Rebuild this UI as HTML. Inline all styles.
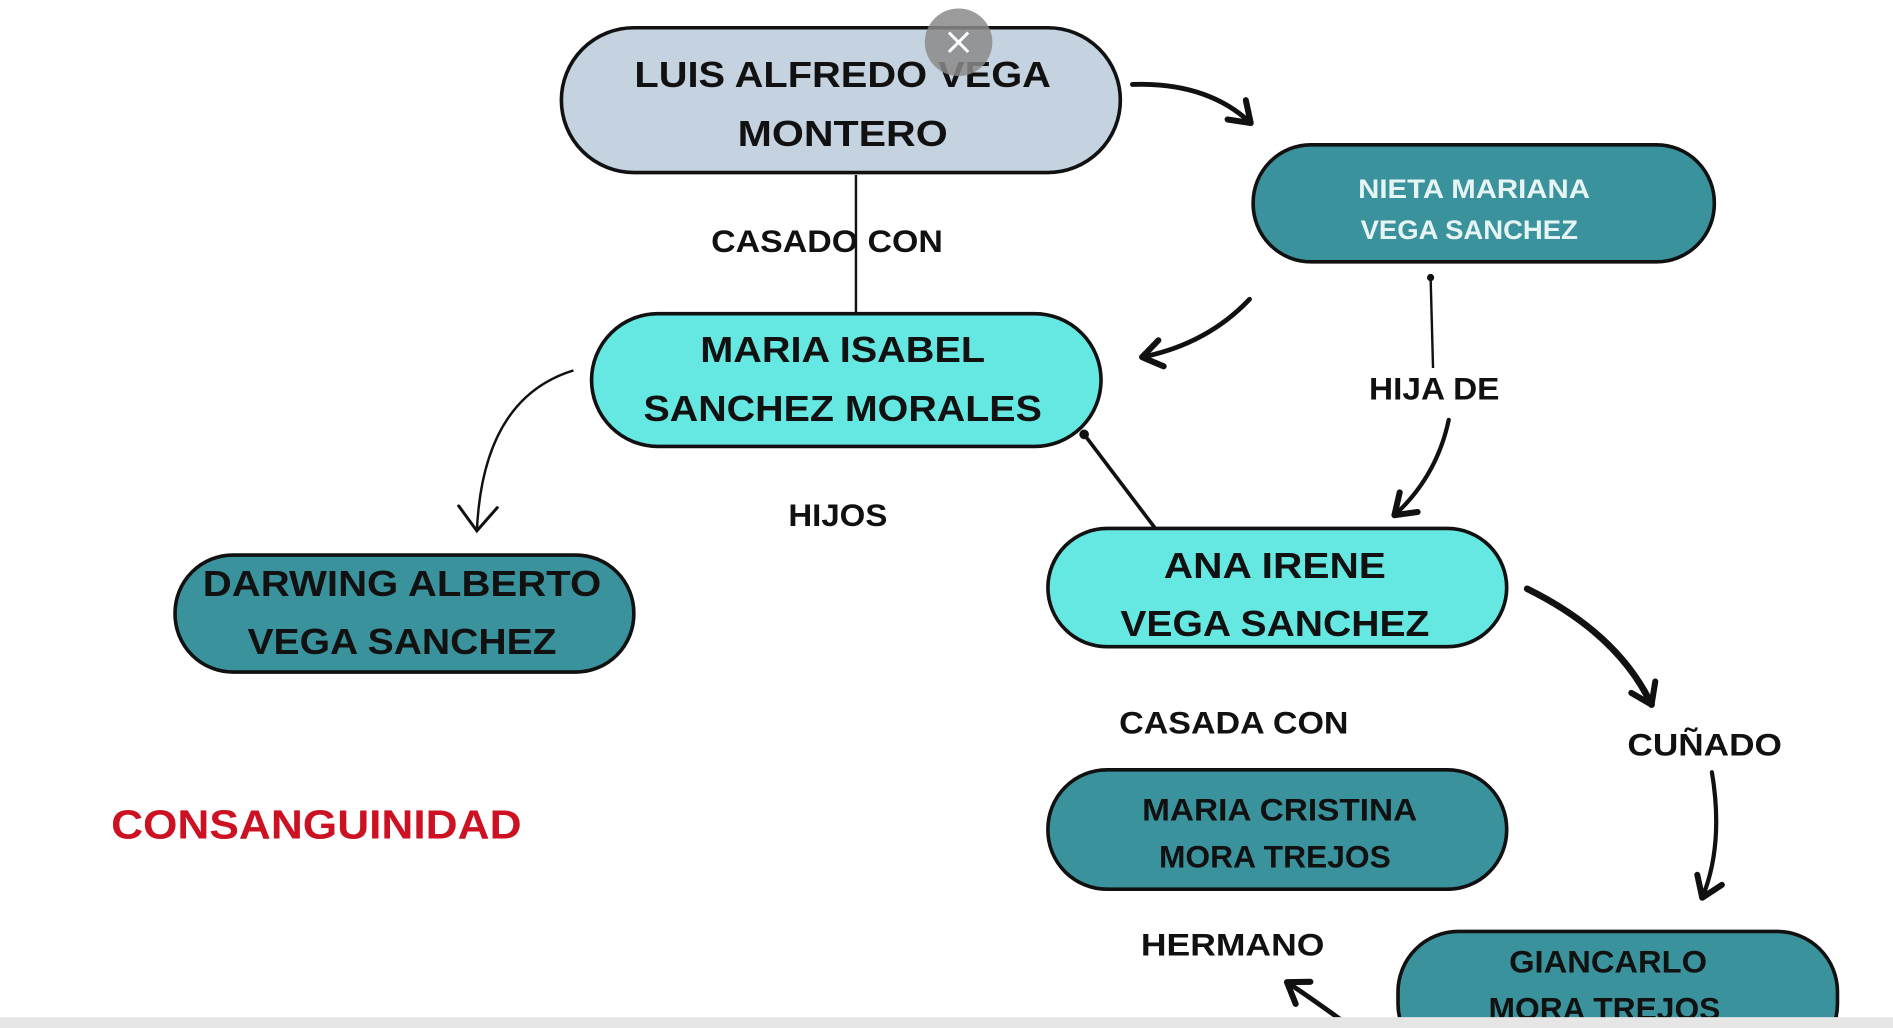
<!DOCTYPE html>
<html><head><meta charset="utf-8"><style>
html,body{margin:0;padding:0;background:#fff;width:1893px;height:1028px;overflow:hidden}
svg{display:block}
text{font-family:"Liberation Sans",sans-serif;font-weight:bold;text-anchor:middle}
</style></head><body>
<svg width="1893" height="1028" viewBox="0 0 1568 852" preserveAspectRatio="none" xmlns="http://www.w3.org/2000/svg">
<defs>
<marker id="a" viewBox="0 0 30 30" refX="22" refY="15" markerWidth="30" markerHeight="30" orient="auto" markerUnits="userSpaceOnUse">
<path d="M6,4 L22,15 L6,26" fill="none" stroke="#111" stroke-width="5" stroke-linecap="round" stroke-linejoin="round"/>
</marker>
<marker id="b" viewBox="0 0 30 36" refX="24" refY="18" markerWidth="30" markerHeight="36" orient="auto" markerUnits="userSpaceOnUse">
<path d="M4,2 L24,18 L4,34" fill="none" stroke="#111" stroke-width="2.5" stroke-linecap="round"/>
</marker>
</defs>
<rect width="1568" height="852" fill="#fff"/>
<path d="M938,70 Q1000,68 1036,102" fill="none" stroke="#111" stroke-width="4" stroke-linecap="round" marker-end="url(#a)"/>
<path d="M1035,248 Q1000,285 946,296" fill="none" stroke="#111" stroke-width="4" stroke-linecap="round" marker-end="url(#a)"/>
<line x1="709" y1="145" x2="709" y2="262" stroke="#111" stroke-width="2"/>
<line x1="1185" y1="230" x2="1187" y2="305" stroke="#111" stroke-width="2"/>
<circle cx="1185" cy="230" r="3" fill="#111"/>
<path d="M1200,348 Q1190,395 1155,427" fill="none" stroke="#111" stroke-width="3.5" stroke-linecap="round" marker-end="url(#a)"/>
<line x1="957" y1="438" x2="898" y2="360" stroke="#111" stroke-width="3"/>
<circle cx="898" cy="360" r="4" fill="#111"/>
<path d="M475,307 Q400,330 395,440" fill="none" stroke="#111" stroke-width="2" marker-end="url(#b)"/>
<path d="M1265,488 Q1340,525 1368,584" fill="none" stroke="#111" stroke-width="5.5" stroke-linecap="round" marker-end="url(#a)"/>
<path d="M1418,640 Q1428,700 1410,744" fill="none" stroke="#111" stroke-width="3.5" stroke-linecap="round" marker-end="url(#a)"/>
<path d="M1120,852 Q1090,830 1066,814" fill="none" stroke="#111" stroke-width="4" stroke-linecap="round" marker-end="url(#a)"/>
<rect x="465" y="23" width="463" height="120" rx="60" fill="#c5d3e0" stroke="#111" stroke-width="3"/>
<rect x="1038" y="120" width="382" height="97" rx="48" fill="#3a939c" stroke="#111" stroke-width="3"/>
<rect x="490" y="260" width="422" height="110" rx="55" fill="#66e8e2" stroke="#111" stroke-width="3"/>
<rect x="145" y="460" width="380" height="97" rx="48" fill="#3a939c" stroke="#111" stroke-width="3"/>
<rect x="868" y="438" width="380" height="98" rx="49" fill="#66e8e2" stroke="#111" stroke-width="3"/>
<rect x="868" y="638" width="380" height="99" rx="49" fill="#3a939c" stroke="#111" stroke-width="3"/>
<rect x="1158" y="772" width="364" height="110" rx="50" fill="#3a939c" stroke="#111" stroke-width="3"/>
<g fill="#111" font-size="30">
<text x="698" y="72" textLength="345" lengthAdjust="spacingAndGlyphs">LUIS ALFREDO  VEGA</text>
<text x="698" y="121" textLength="174" lengthAdjust="spacingAndGlyphs">MONTERO</text>
<text x="698" y="300" textLength="236" lengthAdjust="spacingAndGlyphs">MARIA ISABEL</text>
<text x="698" y="349" textLength="330" lengthAdjust="spacingAndGlyphs">SANCHEZ MORALES</text>
<text x="333" y="494" textLength="330" lengthAdjust="spacingAndGlyphs">DARWING ALBERTO</text>
<text x="333" y="542" textLength="256" lengthAdjust="spacingAndGlyphs">VEGA SANCHEZ</text>
<text x="1056" y="479" textLength="184" lengthAdjust="spacingAndGlyphs">ANA IRENE</text>
<text x="1056" y="527" textLength="256" lengthAdjust="spacingAndGlyphs">VEGA SANCHEZ</text>
</g>
<g fill="#e6f4f4" font-size="22">
<text x="1221" y="164" textLength="192" lengthAdjust="spacingAndGlyphs">NIETA MARIANA</text>
<text x="1217" y="198" textLength="180" lengthAdjust="spacingAndGlyphs">VEGA SANCHEZ</text>
</g>
<g fill="#111" font-size="26">
<text x="1060" y="680" textLength="228" lengthAdjust="spacingAndGlyphs">MARIA CRISTINA</text>
<text x="1056" y="719" textLength="192" lengthAdjust="spacingAndGlyphs">MORA TREJOS</text>
<text x="1332" y="806" textLength="164" lengthAdjust="spacingAndGlyphs">GIANCARLO</text>
<text x="1329" y="845" textLength="192" lengthAdjust="spacingAndGlyphs">MORA TREJOS</text>
</g>
<g fill="#111" font-size="26">
<text x="685" y="209" textLength="192" lengthAdjust="spacingAndGlyphs">CASADO CON</text>
<text x="694" y="436" textLength="82" lengthAdjust="spacingAndGlyphs">HIJOS</text>
<text x="1188" y="331" textLength="108" lengthAdjust="spacingAndGlyphs">HIJA DE</text>
<text x="1022" y="608" textLength="190" lengthAdjust="spacingAndGlyphs">CASADA CON</text>
<text x="1412" y="626" textLength="128" lengthAdjust="spacingAndGlyphs">CUÑADO</text>
<text x="1021" y="792" textLength="152" lengthAdjust="spacingAndGlyphs">HERMANO</text>
</g>
<text x="262" y="695" fill="#cc1122" font-size="34" textLength="340" lengthAdjust="spacingAndGlyphs">CONSANGUINIDAD</text>
<circle cx="794" cy="35" r="28" fill="#8a8a8a" opacity="0.85"/>
<path d="M786,27 L802,43 M802,27 L786,43" stroke="#fff" stroke-width="2.5"/>
<rect x="0" y="843" width="1568" height="9" fill="#e6e6e6"/>
</svg>
</body></html>
